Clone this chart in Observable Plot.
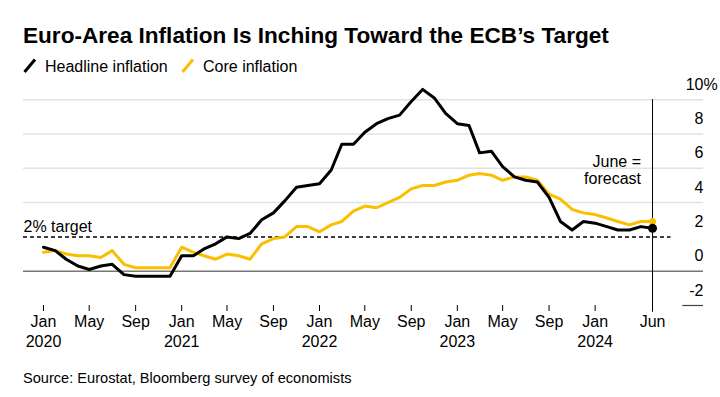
<!DOCTYPE html>
<html>
<head>
<meta charset="utf-8">
<script src="https://cdn.jsdelivr.net/npm/d3@7"></script>
<script src="https://cdn.jsdelivr.net/npm/@observablehq/plot@0.6"></script>
<style>
  body { margin: 0; background: #fff; font-family: "Liberation Sans", Arial, sans-serif; color: #000; }
  #wrap { position: relative; width: 720px; height: 397px; overflow: hidden; background: #fff; }
  #title { position: absolute; left: 23px; top: 22px; font-weight: 700; font-size: 22.6px; line-height: 28px; white-space: nowrap; }
  .lg { position: absolute; top: 56px; font-size: 16px; line-height: 22px; white-space: nowrap; }
  .ic { position: absolute; top: 58px; }
  #chart { position: absolute; left: 0; top: 80px; }
  #source { position: absolute; left: 23px; top: 369px; font-size: 14.6px; line-height: 18px; white-space: nowrap; }
</style>
</head>
<body>
<div id="wrap">
  <div id="title">Euro-Area Inflation Is Inching Toward the ECB’s Target</div>
  <svg class="ic" style="left:23px" width="14" height="16"><line x1="1.5" y1="14" x2="12" y2="1.5" stroke="#000" stroke-width="3"/></svg>
  <div class="lg" style="left:45px">Headline inflation</div>
  <svg class="ic" style="left:181px" width="14" height="16"><line x1="1.5" y1="14" x2="12" y2="1.5" stroke="#f9bf00" stroke-width="3"/></svg>
  <div class="lg" style="left:203px">Core inflation</div>
  <div id="chart"></div>
  <div id="source">Source: Eurostat, Bloomberg survey of economists</div>
</div>
<script>
// ---- Data (monthly, Jan 2020 – Jun 2024; June 2024 = forecast) ----
const firstMonth = "2020-01";
const lastMonth = "2024-06";
const headline = [1.4, 1.2, 0.7, 0.3, 0.1, 0.3, 0.4, -0.2, -0.3, -0.3, -0.3, -0.3,
                  0.9, 0.9, 1.3, 1.6, 2.0, 1.9, 2.2, 3.0, 3.4, 4.1, 4.9, 5.0,
                  5.1, 5.9, 7.4, 7.4, 8.1, 8.6, 8.9, 9.1, 9.9, 10.6, 10.1, 9.2,
                  8.6, 8.5, 6.9, 7.0, 6.1, 5.5, 5.3, 5.2, 4.3, 2.9, 2.4, 2.9,
                  2.8, 2.6, 2.4, 2.4, 2.6, 2.5];
const core = [1.1, 1.2, 1.0, 0.9, 0.9, 0.8, 1.2, 0.4, 0.2, 0.2, 0.2, 0.2,
              1.4, 1.1, 0.9, 0.7, 1.0, 0.9, 0.7, 1.6, 1.9, 2.0, 2.6, 2.6,
              2.3, 2.7, 2.9, 3.5, 3.8, 3.7, 4.0, 4.3, 4.8, 5.0, 5.0, 5.2,
              5.3, 5.6, 5.7, 5.6, 5.3, 5.5, 5.5, 5.3, 4.5, 4.2, 3.6, 3.4,
              3.3, 3.1, 2.9, 2.7, 2.9, 2.9];
const target = 2;
const xTickMonths = ["2020-01","2020-05","2020-09","2021-01","2021-05","2021-09",
                     "2022-01","2022-05","2022-09","2023-01","2023-05","2023-09",
                     "2024-01","2024-06"];
const xTickNames = ["Jan","May","Sep","Jan","May","Sep","Jan","May","Sep","Jan","May","Sep","Jan","Jun"];
const xTickYears = ["2020","","","2021","","","2022","","","2023","","","2024",""];
const yTicks = [10, 8, 6, 4, 2, 0, -2];
const yTickLabels = ["10", "8", "6", "4", "2", "0", "-2"];
const gridValues = [4, 6, 8, 10];
const annotation = "June =\nforecast";
const targetLabel = "2% target";

// ---- Build table ----
const parse = d3.utcParse("%Y-%m");
const months = d3.utcMonth.range(parse(firstMonth), d3.utcMonth.offset(parse(lastMonth), 1));
const data = months.map((date, i) => ({date, headline: headline[i], core: core[i]}));
const last = data[data.length - 1];
const ticks = xTickMonths.map((m, i) => ({date: parse(m), name: xTickNames[i], year: xTickYears[i]}));
const yt = yTicks.map((v, i) => ({v, label: yTickLabels[i]}));

const yellow = "#f9bf00";
const xStart = new Date(Date.UTC(2019, 10, 9));
const xEnd = new Date(Date.UTC(2024, 9, 14));

const chart = Plot.plot({
  width: 720,
  height: 290,
  marginLeft: 23,
  marginRight: 17,
  marginTop: 19.2,
  marginBottom: 65,
  x: {type: "utc", domain: [xStart, xEnd], axis: null},
  y: {domain: [-2, 10], axis: null},
  style: {fontFamily: "Liberation Sans, Arial, sans-serif", fontSize: "16px", color: "#000", background: "#fff", overflow: "visible"},
  marks: [
    Plot.ruleY(gridValues, {stroke: "#e2e2e2", strokeWidth: 1.5}),
    Plot.ruleY([0], {stroke: "#777", strokeWidth: 1.5}),
    Plot.ruleY([-2], {x1: new Date(Date.UTC(2024, 7, 20)), x2: xEnd, stroke: "#444", strokeWidth: 1.2}),
    Plot.ruleY([target], {x1: xStart, x2: new Date(Date.UTC(2024, 6, 20)), stroke: "#000", strokeWidth: 1.5, strokeDasharray: "4,3"}),
    Plot.text([targetLabel], {x: xStart, y: target, dy: -10, textAnchor: "start", fill: "#000"}),
    Plot.ruleX([last.date], {y1: -2.39, y2: 10, stroke: "#000", strokeWidth: 1}),
    Plot.line(data, {x: "date", y: "core", stroke: yellow, strokeWidth: 3}),
    Plot.line(data, {x: "date", y: "headline", stroke: "#000", strokeWidth: 3}),
    Plot.dot([last], {x: "date", y: "core", r: 3.5, fill: yellow}),
    Plot.dot([last], {x: "date", y: "headline", r: 4.5, fill: "#000"}),
    Plot.text([annotation], {x: last.date, y: 5.9, dx: -11.5, textAnchor: "end", lineHeight: 1.1, fill: "#000"}),
    Plot.ruleX(ticks.slice(0, -1), {x: "date", y1: -2, y2: -2.35, stroke: "#000", strokeWidth: 1}),
    Plot.text(ticks, {x: "date", text: "name", frameAnchor: "bottom", dy: 21.7, fill: "#000"}),
    Plot.text(ticks, {x: "date", text: "year", frameAnchor: "bottom", dy: 41, fill: "#000"}),
    Plot.text(yt, {y: "v", text: "label", frameAnchor: "right", textAnchor: "end", dy: -15, fill: "#000"}),
    Plot.text(yt.filter(d => d.v === 10), {y: "v", text: () => "%", frameAnchor: "right", textAnchor: "start", dy: -15, fill: "#000"})
  ]
});
document.getElementById("chart").appendChild(chart);
</script>
</body>
</html>
